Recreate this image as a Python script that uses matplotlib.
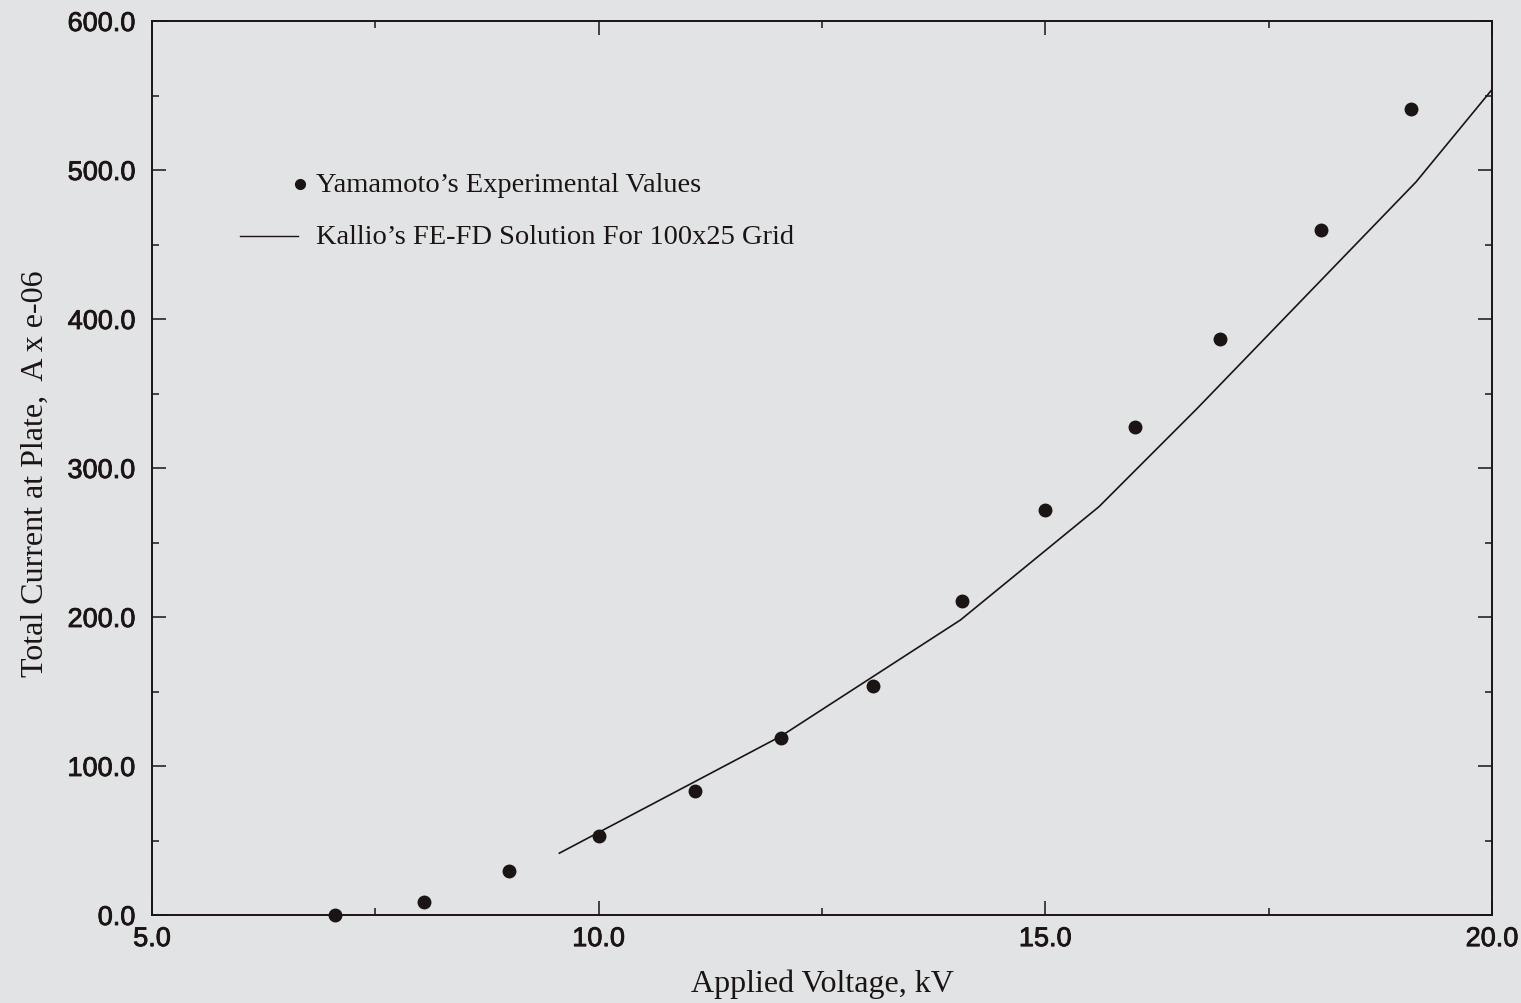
import matplotlib
matplotlib.use("Agg")
import matplotlib.pyplot as plt
import matplotlib.patheffects as pe
from matplotlib.ticker import MultipleLocator, FormatStrFormatter

# Measured plate current (Yamamoto) vs. applied voltage
exp_voltage = [7.05, 8.04, 9.0, 10.0, 11.08, 12.04, 13.07, 14.07, 15.0, 16.0, 16.96, 18.09, 19.09]
exp_current = [0.0, 8.7, 29.5, 53.0, 83.0, 119.0, 154.0, 211.0, 272.0, 327.5, 386.5, 460.0, 541.0]

# Computed plate current (Kallio, FE-FD, 100x25 grid)
sim_voltage = [9.56, 12.04, 14.05, 15.6, 16.7, 19.15, 20.0]
sim_current = [41.5, 120.0, 198.0, 274.0, 340.0, 492.0, 554.0]

legend_labels = ["Yamamoto\u2019s Experimental Values",
                 "Kallio\u2019s FE-FD Solution For 100x25 Grid"]

paper = "#e2e3e5"
ink = "#1b1414"
serif = ["Liberation Serif", "DejaVu Serif"]
sans = ["Liberation Sans", "DejaVu Sans"]

fig = plt.figure(figsize=(15.21, 10.04), dpi=100, facecolor=paper)
ax = fig.add_axes([152 / 1521, 88 / 1004, (1492 - 152) / 1521, (916 - 22) / 1004])
ax.set_facecolor(paper)

ax.plot(sim_voltage, sim_current, color=ink, lw=1.2, solid_joinstyle="miter")
ax.plot(exp_voltage, exp_current, ls="none", marker="o", ms=9.0,
        color=ink, mec=ink, clip_on=False, zorder=5)

ax.set_xlim(5.0, 20.0)
ax.set_ylim(0.0, 600.0)

ax.xaxis.set_major_locator(MultipleLocator(5.0))
ax.xaxis.set_minor_locator(MultipleLocator(2.5))
ax.yaxis.set_major_locator(MultipleLocator(100.0))
ax.yaxis.set_minor_locator(MultipleLocator(50.0))
ax.xaxis.set_major_formatter(FormatStrFormatter("%.1f"))
ax.yaxis.set_major_formatter(FormatStrFormatter("%.1f"))

ax.tick_params(which="both", direction="in", top=True, right=True,
               color=ink, width=1.1)
ax.tick_params(which="major", length=10)
ax.tick_params(which="minor", length=5)
ax.tick_params(axis="x", which="major", pad=8)
ax.tick_params(axis="y", which="major", pad=12)
heavy = [pe.withStroke(linewidth=0.6, foreground=ink)]
for lab in ax.get_xticklabels() + ax.get_yticklabels():
    lab.set_family(sans)
    lab.set_fontsize(19.5)
    lab.set_color(ink)
    lab.set_path_effects(heavy)

for sp in ax.spines.values():
    sp.set_linewidth(1.4)
    sp.set_color(ink)

ax.set_xlabel("Applied Voltage, kV", family=serif, fontsize=23, color=ink, labelpad=12)
fig.text(35 / 1521, 1 - 474 / 1004, "Total Current at Plate,  A x e-06",
         family=serif, fontsize=23, color=ink, rotation=90,
         ha="center", va="center")

# Key in the upper-left corner of the plot
def to_axes(px, py):
    return ((px - 152) / (1492 - 152), (916 - py) / (916 - 22))

x0, y0 = to_axes(300, 185)
ax.plot([x0], [y0], transform=ax.transAxes, marker="o", ms=7.0, color=ink, ls="none")
xa, y1 = to_axes(240, 237)
xb, _ = to_axes(298, 237)
ax.plot([xa, xb], [y1, y1], transform=ax.transAxes, color=ink, lw=1.0)
tx, _ = to_axes(316, 0)
ax.text(tx, y0, legend_labels[0], transform=ax.transAxes, family=serif,
        fontsize=20.5, color=ink, ha="left", va="center")
ax.text(tx, y1, legend_labels[1], transform=ax.transAxes, family=serif,
        fontsize=20.5, color=ink, ha="left", va="center")

fig.savefig("out.png", dpi=100, facecolor=paper)
